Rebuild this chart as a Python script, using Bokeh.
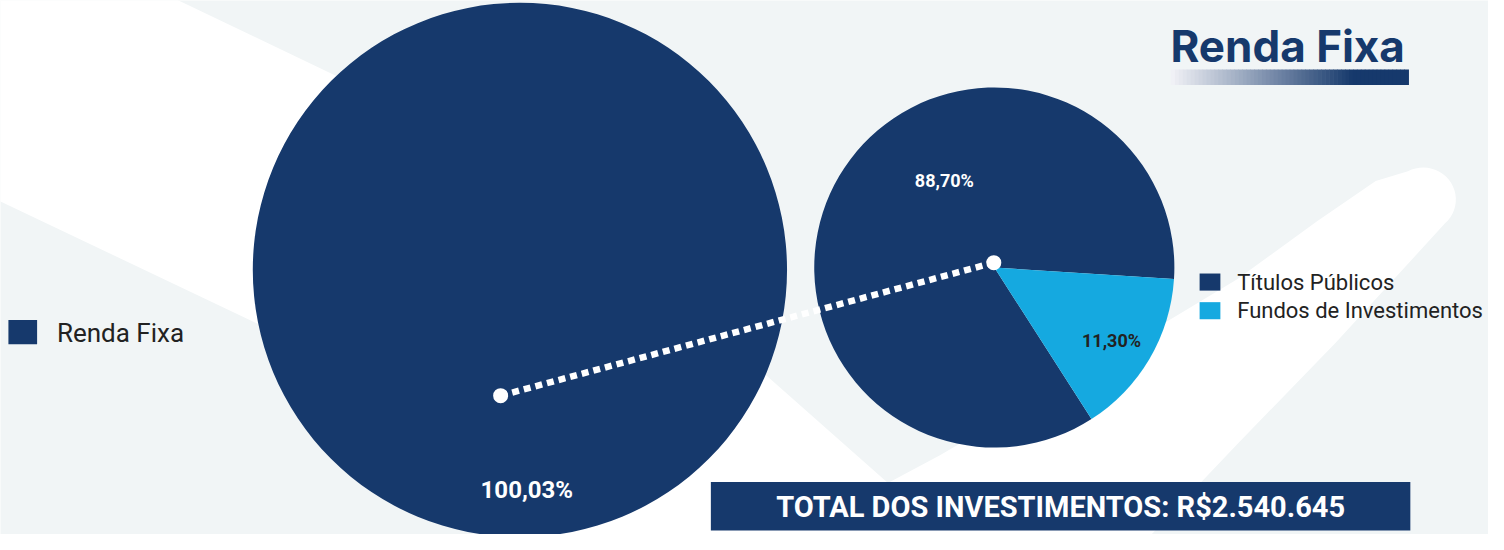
import numpy as np
from bokeh.plotting import figure
from bokeh.models import Range1d
from bokeh.core.properties import value
from bokeh.embed import file_html
from bokeh.resources import INLINE

# ---------------- data ----------------
outer_categories = ["Renda Fixa"]
outer_values = [100.03]
outer_labels = ["100,03%"]

inner_categories = ["Títulos Públicos", "Fundos de Investimentos"]
inner_shares = [85.1, 14.9]          # share of the disc each wedge covers in the picture
inner_labels = ["88,70%", "11,30%"]

title_text = "Renda Fixa"
total_text = "TOTAL DOS INVESTIMENTOS: R$2.540.645"

# ---------------- styles ----------------
NAVY = "#16396c"
CYAN = "#15a9e0"
BG = "#f1f5f6"
TXT = "#222222"
outer_colors = [NAVY]
inner_colors = [NAVY, CYAN]
FONT = "Roboto"


def Y(y):
    """reference pixel row -> data y"""
    return 550 - y


p = figure(width=1488, height=534, x_range=Range1d(0, 1504), y_range=Range1d(0, 550),
           output_backend="svg", toolbar_location=None, min_border=0,
           x_axis_location=None, y_axis_location=None)
p.grid.visible = False
p.outline_line_color = None
p.background_fill_color = BG
p.border_fill_color = BG

# ---------------- background swoosh ----------------
inner_edge = [(-20, -20), (160, -20), (180, 0), (340, 78), (500, 180), (650, 288),
              (775, 387), (897, 497), (950, 468), (1100, 379), (1250, 287),
              (1330, 228), (1390, 186)]
th = np.deg2rad(np.linspace(118, -48, 24))
tip = [(1438 + 33 * np.cos(t), 205 - 33 * np.sin(t)) for t in th]
outer_edge = [(1350, 352), (1250, 457), (1140, 575), (575, 575), (560, 550),
              (420, 430), (260, 333), (0, 207), (-20, 198)]
sw = inner_edge + tip + outer_edge
p.patch([a for a, b in sw], [Y(b) for a, b in sw], fill_color="white", line_color=None)

# ---------------- outer pie (single series) ----------------
ocx, ocy, orad = 525, Y(277.5), 270
tot = sum(outer_values)
if len(outer_values) == 1:
    p.circle(x=[ocx], y=[ocy], radius=orad, fill_color=outer_colors[0], line_color=None)
else:
    ang = np.cumsum([0] + [v / tot * 2 * np.pi for v in outer_values])
    p.wedge(x=ocx, y=ocy, radius=orad, start_angle=ang[:-1], end_angle=ang[1:],
            fill_color=outer_colors, line_color=None)

# ---------------- inner pie ----------------
icx, icy, irad = 1004.5, Y(275), 182
start0 = np.deg2rad(-3.7)
itot = sum(inner_shares)
cum = start0 + np.cumsum([0] + [v / itot * 2 * np.pi for v in inner_shares])
p.wedge(x=icx, y=icy, radius=irad, start_angle=cum[:-1], end_angle=cum[1:],
        fill_color=inner_colors, line_color=None)

# ---------------- connector ----------------
p.line([505.5, 1004], [Y(407), Y(270)], line_color="white", line_width=6.5,
       line_dash="7 5")
p.scatter([505.5, 1004], [Y(407), Y(270)], size=15, fill_color="white", line_color=None)

# ---------------- slice labels ----------------
p.text(x=[532], y=[Y(504)], text=outer_labels, text_color="white",
       text_font=value(FONT), text_font_style="bold", text_font_size="24px",
       text_align="center", text_baseline="middle")
p.text(x=[954, 1123], y=[Y(185), Y(350)], text=inner_labels,
       text_color=["white", TXT], text_font=value(FONT), text_font_style="bold",
       text_font_size="18px", text_align="center", text_baseline="middle")

# ---------------- legends ----------------
p.quad(left=[8], right=[37], top=[Y(329)], bottom=[Y(354)], fill_color=outer_colors,
       line_color=None)
p.text(x=[57], y=[Y(342)], text=outer_categories, text_color=TXT,
       text_font=value(FONT), text_font_size="26px", text_baseline="middle")

ly = [290, 319.5]
p.quad(left=[1212] * 2, right=[1233] * 2, top=[Y(v - 8.8) for v in ly],
       bottom=[Y(v + 8.8) for v in ly], fill_color=inner_colors, line_color=None)
p.text(x=[1250] * 2, y=[Y(v) for v in ly], text=inner_categories, text_color=TXT,
       text_font=value(FONT), text_font_size="22px", text_baseline="middle")

# ---------------- title ----------------
p.text(x=[1301], y=[Y(47)], text=[title_text], text_color=NAVY,
       text_font=value("Inter"), text_font_style="bold", text_font_size="44px",
       text_align="center", text_baseline="middle")
n = 60
gx = np.linspace(1183, 1423, n + 1)
c0 = np.array([240, 241, 246])
c1 = np.array([22, 57, 108])
cols = []
for i in range(n):
    t = min(1.0, (gx[i] - 1183) / (1365 - 1183))
    c = (c0 + (c1 - c0) * t).astype(int)
    cols.append("#%02x%02x%02x" % tuple(c))
p.quad(left=gx[:-1], right=gx[1:] + 0.6, top=Y(71), bottom=Y(87), fill_color=cols,
       line_color=None)

# ---------------- total box ----------------
p.quad(left=[718], right=[1425], top=[Y(496)], bottom=[Y(546)], fill_color=NAVY,
       line_color=None)
p.text(x=[1071.5], y=[Y(522)], text=[total_text], text_color="white",
       text_font=value(FONT), text_font_style="bold", text_font_size="29px",
       text_align="center", text_baseline="middle")

open("out.html", "w").write(file_html(p, INLINE))
